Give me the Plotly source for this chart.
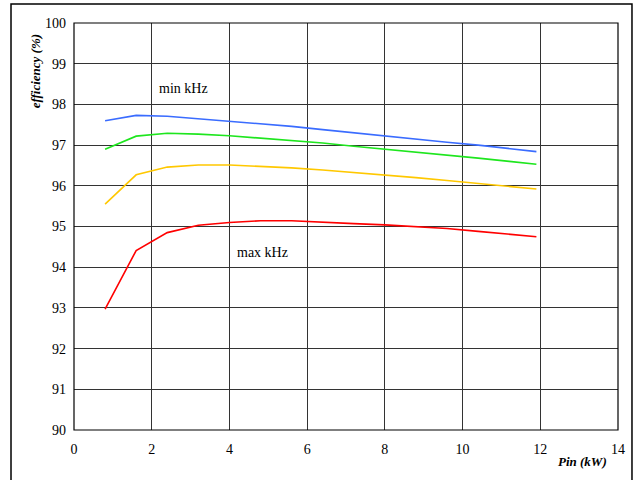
import plotly.graph_objects as go

pin_kw = [0.8, 1.6, 2.4, 3.2, 4.0, 4.8, 5.6, 6.4, 7.2, 8.0, 8.8, 9.6, 10.4, 11.2, 11.9]
eff_blue = [97.60, 97.73, 97.71, 97.65, 97.59, 97.52, 97.46, 97.38, 97.30, 97.22, 97.15, 97.07, 97.00, 96.92, 96.84]
eff_green = [96.90, 97.22, 97.29, 97.27, 97.23, 97.17, 97.12, 97.05, 96.97, 96.90, 96.83, 96.75, 96.68, 96.60, 96.53]
eff_yellow = [95.55, 96.27, 96.46, 96.51, 96.51, 96.48, 96.44, 96.39, 96.33, 96.27, 96.20, 96.13, 96.06, 95.99, 95.92]
eff_red = [92.97, 94.41, 94.85, 95.03, 95.10, 95.14, 95.14, 95.10, 95.07, 95.04, 95.00, 94.95, 94.88, 94.81, 94.75]

x_ticks = [0, 2, 4, 6, 8, 10, 12, 14]
y_ticks = [90, 91, 92, 93, 94, 95, 96, 97, 98, 99, 100]

serif = "Liberation Serif"

fig = go.Figure()
for ys, col in [(eff_blue, "#3a6cff"), (eff_green, "#1ee61e"), (eff_yellow, "#ffc800"), (eff_red, "#ff0000")]:
    fig.add_trace(go.Scatter(x=pin_kw, y=ys, mode="lines",
                             line=dict(color=col, width=1.6), showlegend=False,
                             hoverinfo="skip"))

fig.add_annotation(x=2.83, y=98.38, text="min kHz", showarrow=False,
                   font=dict(family=serif, size=14, color="black"))
fig.add_annotation(x=4.86, y=94.35, text="max kHz", showarrow=False,
                   font=dict(family=serif, size=14, color="black"))

fig.add_annotation(xref="paper", yref="paper", x=-0.0700, y=0.881,
                   text="<b><i>efficiency (%)</i></b>", textangle=-90,
                   showarrow=False, xanchor="center", yanchor="middle",
                   font=dict(family=serif, size=13, color="black"))
fig.add_annotation(xref="paper", yref="paper", x=0.935, y=-0.078,
                   text="<b><i>Pin (kW)</i></b>", showarrow=False,
                   xanchor="center", yanchor="middle",
                   font=dict(family=serif, size=13, color="black"))

# outer frame
fig.add_shape(type="rect", xref="paper", yref="paper",
              x0=-0.1158, x1=1.0257, y0=-0.14, y1=1.0467,
              line=dict(color="black", width=1.5), layer="below")
# plot frame
fig.add_shape(type="rect", xref="paper", yref="paper",
              x0=0, x1=1, y0=0, y1=1,
              line=dict(color="black", width=1.2))

fig.update_xaxes(range=[0, 14], tickvals=x_ticks, ticktext=[str(v) for v in x_ticks],
                 showgrid=True, gridcolor="#333333", gridwidth=1,
                 zeroline=False, showline=False, ticks="", ticklabelstandoff=9,
                 tickfont=dict(family=serif, size=14, color="black"),
                 fixedrange=True)
fig.update_yaxes(range=[90, 100], tickvals=y_ticks, ticktext=[str(v) for v in y_ticks],
                 showgrid=True, gridcolor="#333333", gridwidth=1,
                 zeroline=False, showline=False, ticks="", ticklabelstandoff=7,
                 tickfont=dict(family=serif, size=14, color="black"),
                 fixedrange=True)

fig.update_layout(width=636, height=480,
                  margin=dict(l=74, r=18, t=23, b=50),
                  paper_bgcolor="white", plot_bgcolor="white",
                  font=dict(family=serif),
                  showlegend=False)

fig.write_html("out.html", config={"displayModeBar": False},
               post_script="document.body.style.margin='0';")
